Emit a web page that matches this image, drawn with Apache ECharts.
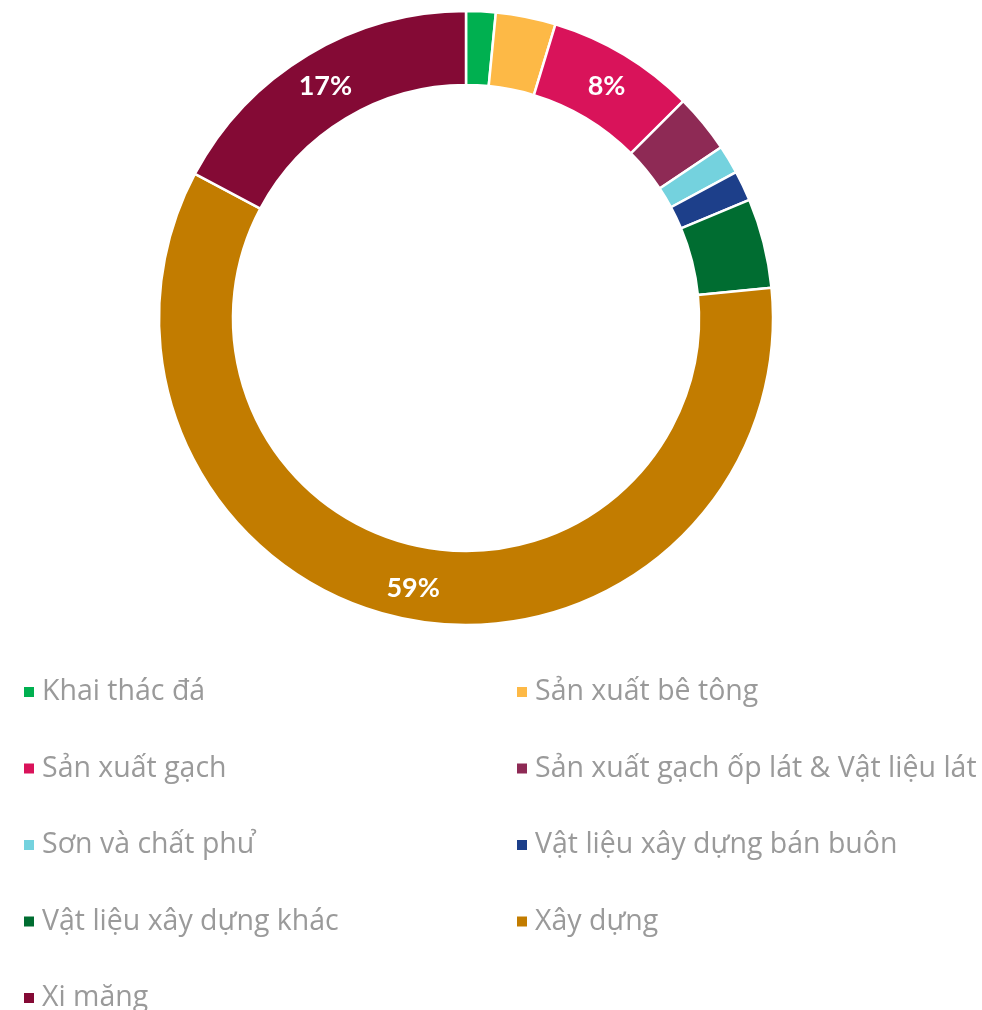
<!DOCTYPE html>
<html>
<head>
<meta charset="utf-8">
<script src="https://cdn.jsdelivr.net/npm/echarts@6/dist/echarts.min.js"></script>
<style>
html,body{margin:0;padding:0;background:#fff;}
#chart{width:982px;height:1010px;}
</style>
</head>
<body>
<div id="chart"></div>
<script>
const categories = [
  'Khai thác đá',
  'Sản xuất bê tông',
  'Sản xuất gạch',
  'Sản xuất gạch ốp lát & Vật liệu lát',
  'Sơn và chất phu ̉',
  'Vật liệu xây dựng bán buôn',
  'Vật liệu xây dựng khác',
  'Xây dựng',
  'Xi măng'
];
const values = [1.55, 3.15, 7.8, 3.1, 1.5, 1.6, 4.7, 59.3, 17.2];
const colors = ['#00b050', '#fdb946', '#d9135a', '#8e2a55', '#74d2de', '#1d3f8a', '#006d31', '#c27c00', '#840a35'];

const leftItems = categories.filter((c, i) => i % 2 === 0);
const rightItems = categories.filter((c, i) => i % 2 === 1);

const legendFont = '"Open Sans", "Noto Sans", sans-serif';
const labelFont = 'Lato, "Open Sans", sans-serif';
const legendCommon = {
  orient: 'vertical',
  top: 677,
  height: 400,
  padding: 0,
  itemWidth: 12,
  itemHeight: 12,
  itemGap: 46.5,
  icon: 'rect',
  selectedMode: false,
  textStyle: { color: '#9a9a9a', fontSize: 28.5, fontFamily: legendFont, lineHeight: 30, padding: [0, 0, 0, 2] }
};

const chart = echarts.init(document.getElementById('chart'));
chart.setOption({
  color: colors,
  animation: false,
  legend: [
    Object.assign({}, legendCommon, { left: 22, data: leftItems }),
    Object.assign({}, legendCommon, { left: 515, data: rightItems })
  ],
  series: [{
    type: 'pie',
    center: [466, 318],
    radius: [233, 307],
    startAngle: 90,
    clockwise: true,
    avoidLabelOverlap: false,
    itemStyle: { borderColor: '#ffffff', borderWidth: 2.5 },
    label: {
      show: true,
      position: 'inside',
      color: '#ffffff',
      fontSize: 27,
      fontWeight: 'bold',
      fontFamily: labelFont,
      offset: [0, 2],
      formatter: p => p.percent >= 7 ? Math.round(p.percent) + '%' : ''
    },
    labelLine: { show: false },
    emphasis: { disabled: true },
    data: categories.map((c, i) => ({ name: c, value: values[i] }))
  }]
});
</script>
</body>
</html>
